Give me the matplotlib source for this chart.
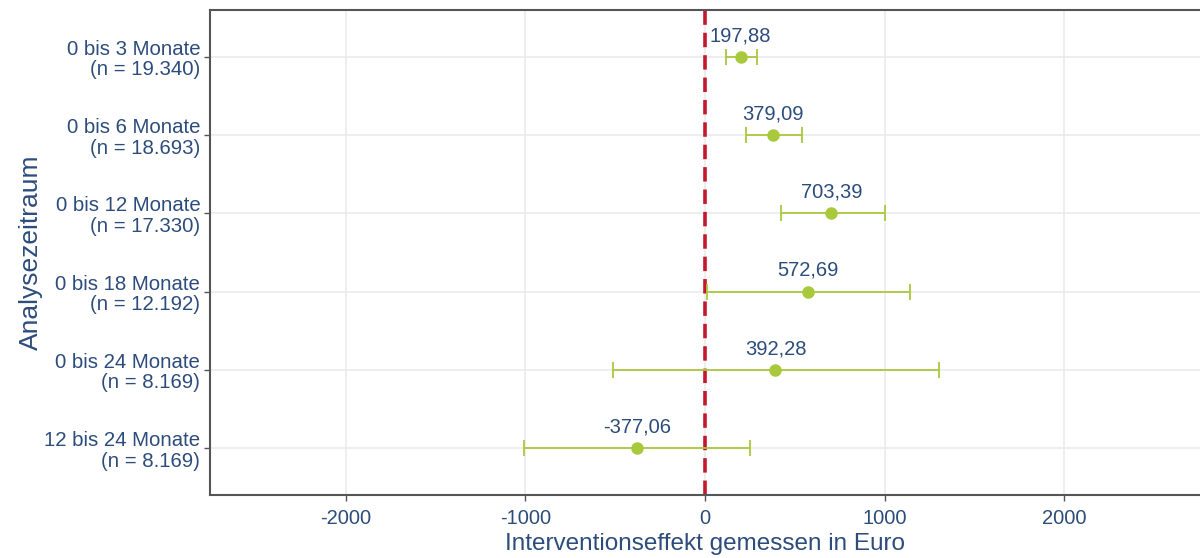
import matplotlib
matplotlib.use("Agg")
import matplotlib.pyplot as plt

# Analysis periods (top to bottom) with sample sizes
periods = ["0 bis 3 Monate", "0 bis 6 Monate", "0 bis 12 Monate",
           "0 bis 18 Monate", "0 bis 24 Monate", "12 bis 24 Monate"]
sample_sizes = ["19.340", "18.693", "17.330", "12.192", "8.169", "8.169"]

# Intervention effect estimates and confidence bounds (Euro)
effects = [197.88, 379.09, 703.39, 572.69, 392.28, -377.06]
ci_lower = [117, 227, 423, 11, -510, -1005]
ci_upper = [289, 540, 1000, 1141, 1304, 250]

x_ticks = [-2000, -1000, 0, 1000, 2000]

TEXT = "#2C4C7C"
GREEN = "#A9C93D"
RED = "#C3182E"

plt.rcParams["font.family"] = ["Liberation Sans", "DejaVu Sans"]

fig = plt.figure(figsize=(12, 5.58), dpi=100)
ax = fig.add_axes([210 / 1200, 1 - 495 / 558, 990 / 1200, 485 / 558])

n = len(periods)
ypos = list(range(n, 0, -1))

ax.set_xlim(-2755, 2755)
ax.set_ylim(0.4, n + 0.6)

ax.grid(True, color="#EBEBEB", linewidth=1.2, zorder=0)
ax.set_axisbelow(True)

ax.axvline(0, color=RED, linewidth=2.6, linestyle=(0, (4, 2.2)), zorder=2)

xerr = [[e - lo for e, lo in zip(effects, ci_lower)],
        [hi - e for e, hi in zip(effects, ci_upper)]]
ax.errorbar(effects, ypos, xerr=xerr, fmt="o", color=GREEN, ecolor=GREEN,
            elinewidth=1.3, capsize=6, capthick=1.3, markersize=8, zorder=3)

for e, y in zip(effects, ypos):
    ax.annotate(f"{e:.2f}".replace(".", ","), xy=(e, y), xytext=(0, 8.5),
                textcoords="offset points", ha="center", va="bottom",
                fontsize=14.5, color=TEXT)

ax.set_yticks(ypos)
ax.set_yticklabels([f"{p}\n(n = {s})" for p, s in zip(periods, sample_sizes)])
for t in ax.get_yticklabels():
    t.set_linespacing(1.1)
ax.set_xticks(x_ticks)
ax.set_xticklabels([str(v) for v in x_ticks])

ax.tick_params(axis="both", colors="#555555", labelcolor=TEXT, length=4,
               width=1, labelsize=14.5)
ax.tick_params(axis="y", pad=3, labelsize=14.7)
ax.tick_params(axis="x", pad=6)

for side in ["left", "bottom", "top"]:
    ax.spines[side].set_color("#555555")
    ax.spines[side].set_linewidth(1.5)
ax.spines["right"].set_visible(False)

ax.set_xlabel("Interventionseffekt gemessen in Euro", fontsize=17.5, color=TEXT, labelpad=4)
ax.set_ylabel("Analysezeitraum", fontsize=19, color=TEXT, labelpad=1)

fig.savefig("out.png", dpi=100, facecolor="white")
